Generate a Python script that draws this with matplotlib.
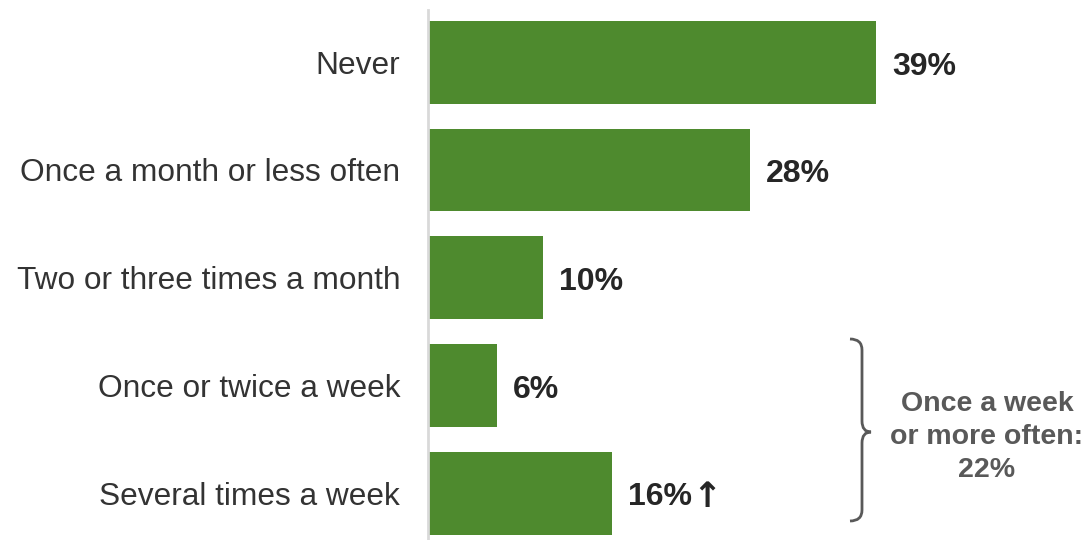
import numpy as np
import matplotlib.pyplot as plt
from matplotlib.path import Path
from matplotlib.patches import PathPatch

plt.rcParams['font.family'] = ['Liberation Sans', 'DejaVu Sans']

# data
categories = ["Never", "Once a month or less often", "Two or three times a month",
              "Once or twice a week", "Several times a week"]
values = [39, 28, 10, 6, 16]
value_labels = ["39%", "28%", "10%", "6%", "16%"]
up_arrow = [False, False, False, False, True]
group_text = "Once a week\nor more often:\n22%"

green = "#4E8A2E"
dark = "#262626"
grey = "#595959"

fig = plt.figure(figsize=(10.89, 5.4), dpi=100)
ax = fig.add_axes([0.393, 0.0, 0.607, 0.981])

y = np.arange(len(categories))
ax.barh(y, values, height=0.77, color=green)

for yi, v, lab, up in zip(y, values, value_labels, up_arrow):
    t = ax.text(v + 1.4, yi + 0.04, lab, va="center", ha="left", fontsize=23,
                fontweight="bold", color=dark)
    if up:
        ax.annotate("\u2191", xy=(1, 0.5), xycoords=t, xytext=(0, 0),
                    textcoords="offset points", ha="left", va="center",
                    fontsize=25, fontweight="bold", color=dark,
                    family="DejaVu Sans")

ax.set_xlim(0, 57.5)
ax.set_ylim(4.436, -0.483)
ax.set_yticks(y)
ax.set_yticklabels(categories, fontsize=22.8, color="#333333")
ax.tick_params(axis="y", length=0, pad=20)
ax.set_xticks([])
for s in ["top", "right", "bottom"]:
    ax.spines[s].set_visible(False)
ax.spines["left"].set_color("#d9d9d9")
ax.spines["left"].set_linewidth(2)

# brace (figure pixel coords)
W, H = 1089, 540
def px(x, yy):
    return (x / W, 1 - yy / H)

x0, x1, xt = 850, 862, 871
top, bot, mid = 339, 521, 432
r = 11
verts = [px(x0, top), px(x1, top), px(x1, top + r),
         px(x1, mid - r), px(x1, mid), px(xt, mid),
         px(x1, mid), px(x1, mid + r),
         px(x1, bot - r), px(x1, bot), px(x0, bot)]
codes = [Path.MOVETO, Path.CURVE3, Path.CURVE3,
         Path.LINETO, Path.CURVE3, Path.CURVE3,
         Path.CURVE3, Path.CURVE3,
         Path.LINETO, Path.CURVE3, Path.CURVE3]
brace = PathPatch(Path(verts, codes), transform=fig.transFigure,
                  fill=False, edgecolor=grey, linewidth=2)
fig.patches.append(brace)

fig.text(987 / W, 1 - 437 / H, group_text, ha="center", va="center",
         fontsize=20.5, fontweight="bold", color=grey, linespacing=1.36)

fig.savefig("out.png", dpi=100)
